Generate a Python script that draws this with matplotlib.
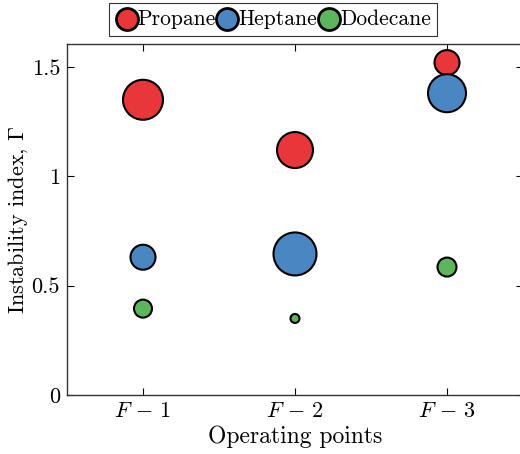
import matplotlib
matplotlib.use('Agg')
import matplotlib.pyplot as plt
import numpy as np

plt.rcParams['font.family'] = 'serif'
plt.rcParams['font.serif'] = ['cmr10', 'DejaVu Serif']
plt.rcParams['mathtext.fontset'] = 'cm'
plt.rcParams['axes.formatter.use_mathtext'] = True

# 数据
points = [r'$F\,-\,1$', r'$F\,-\,2$', r'$F\,-\,3$']
fuels = ['Propane', 'Heptane', 'Dodecane']
gamma = {
    'Propane': [1.35, 1.12, 1.52],
    'Heptane': [0.63, 0.645, 1.38],
    'Dodecane': [0.395, 0.35, 0.585],
}
# 气泡直径 (像素)
bubble = {
    'Propane': [40, 36, 25],
    'Heptane': [25, 43, 38],
    'Dodecane': [18, 9, 19],
}
colors = {'Propane': '#e8363a', 'Heptane': '#4a87c2', 'Dodecane': '#5cb65c'}

fig = plt.figure(figsize=(5.2, 4.54), dpi=100)
ax = fig.add_axes([67/520, 59/454, 456/520, 351/454])

x = np.arange(1, len(points) + 1)
for fuel in fuels:
    s = (np.array(bubble[fuel]) * 0.72) ** 2
    ax.scatter(x, gamma[fuel], s=s, color=colors[fuel], edgecolors='black',
               linewidths=1.5, label=fuel, zorder=3)

ax.set_xlim(0.5, 3.5)
ax.set_ylim(0, 1.605)
ax.set_xticks(x)
ax.set_xticklabels(points, fontsize=16)
ax.set_yticks([0, 0.5, 1, 1.5])
ax.set_yticklabels(['0', '0.5', '1', '1.5'], fontsize=16)
ax.tick_params(direction='in', top=True, right=True, length=5, width=0.8, pad=5)
for sp in ax.spines.values():
    sp.set_linewidth(1.0)
    sp.set_color('#333333')

ax.set_xlabel('Operating points', fontsize=17, labelpad=3)
ax.set_ylabel(r'Instability index, $\Gamma$', fontsize=16, labelpad=1)

leg = ax.legend(loc='lower center', bbox_to_anchor=(0.5 - 0.048, 1.024), ncol=3,
                fontsize=15.5, frameon=True, fancybox=False, edgecolor='black',
                handletextpad=0.0, columnspacing=0.0, borderpad=0.3,
                borderaxespad=0.0, markerscale=1.0, handlelength=1.05)
leg.get_frame().set_linewidth(0.8)
for h in leg.legend_handles:
    h.set_sizes([(22 * 0.72) ** 2])
    h.set_linewidths(2.0)

plt.savefig('out.png', dpi=100)
plt.close()
